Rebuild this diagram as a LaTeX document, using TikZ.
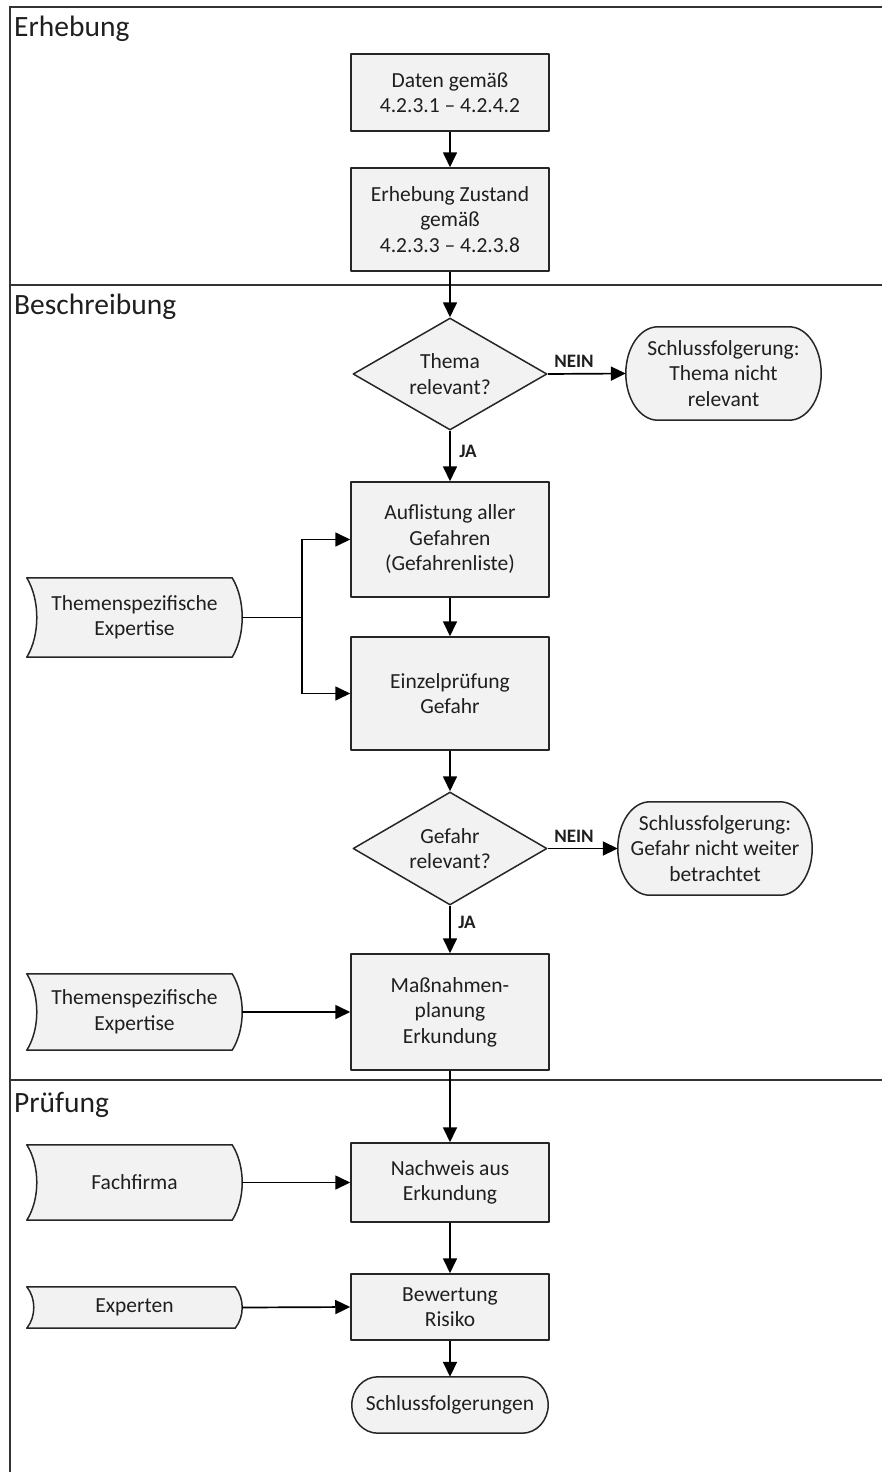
\documentclass[tikz,border=0pt]{standalone}
\usepackage{fontspec}
\setmainfont{Carlito}
\usetikzlibrary{arrows.meta,shapes.geometric,calc}
\pgfdeclarelayer{background}
\pgfsetlayers{background,main}

% terminator outline around a node: #1 node name, #2 horizontal end radius
\newcommand\termdraw[2]{%
  \begin{pgfonlayer}{background}
  \path[shapeline] ($(#1.north west)+(#2,0)$) -- ($(#1.north east)+(-#2,0)$)
    .. controls ($(#1.north east)+(-0.448*#2,0)$) and ($(#1.east)!0.552!(#1.north east)$) .. (#1.east)
    .. controls ($(#1.east)!0.552!(#1.south east)$) and ($(#1.south east)+(-0.448*#2,0)$) .. ($(#1.south east)+(-#2,0)$)
    -- ($(#1.south west)+(#2,0)$)
    .. controls ($(#1.south west)+(0.448*#2,0)$) and ($(#1.west)!0.552!(#1.south west)$) .. (#1.west)
    .. controls ($(#1.west)!0.552!(#1.north west)$) and ($(#1.north west)+(0.448*#2,0)$) .. ($(#1.north west)+(#2,0)$)
    -- cycle;
  \end{pgfonlayer}}

% stored-data outline around a node: #1 node name, #2 bulge
\newcommand\datadraw[2]{%
  \begin{pgfonlayer}{background}
  \path[shapeline] (#1.north west) -- ($(#1.north east)+(-#2,0)$)
    .. controls ($(#1.north east)!0.28!(#1.south east)+(0.333*#2,0)$) and ($(#1.north east)!0.72!(#1.south east)+(0.333*#2,0)$) .. ($(#1.south east)+(-#2,0)$)
    -- (#1.south west)
    .. controls ($(#1.south west)!0.28!(#1.north west)+(1.333*#2,0)$) and ($(#1.south west)!0.72!(#1.north west)+(1.333*#2,0)$) .. (#1.north west)
    -- cycle;
  \end{pgfonlayer}}

\begin{document}
\begin{tikzpicture}[x=1pt,y=-1pt,
  every node/.style={font=\fontsize{21.5}{25.5}\selectfont, text=black!88},
  shapeline/.style={draw=black!85, line width=1.5pt, fill=black!5, line join=round},
  proc/.style={rectangle, shapeline, align=center, inner sep=0pt, minimum width=198pt},
  dec/.style={diamond, shapeline, align=center, inner sep=0pt, aspect=1.73, minimum width=194pt, minimum height=112pt},
  term/.style={rectangle, align=center, inner sep=0pt, minimum width=195pt, minimum height=93pt},
  datanode/.style={rectangle, align=center, inner sep=0pt, minimum width=215pt},
  conn/.style={draw=black, line width=1.7pt, -{Triangle[length=15pt,width=14pt]}},
  lbl/.style={font=\fontsize{19}{22}\selectfont\bfseries, inner sep=0pt},
  lane/.style={font=\fontsize{29.5}{34}\selectfont, inner sep=0pt, anchor=base west},
  frame/.style={draw=black!80, line width=1.8pt}
]
\useasboundingbox (0,0) rectangle (881,1472);

% swimlane frame
\draw[frame] (885,7) -- (10,7) -- (10,1476);
\draw[frame] (10,285) -- (885,285);
\draw[frame] (10,1080) -- (885,1080);
\node[lane] (lane1) at (14,37) {Erhebung};
\node[lane] (lane2) at (14,314) {Beschreibung};
\node[lane] (lane3) at (14,1112) {Prüfung};

% process boxes
\node[proc, minimum height=77pt]  (b1) at (450,92.5)  {Daten gemäß\\4.2.3.1 – 4.2.4.2};
\node[proc, minimum height=103pt] (b2) at (450,219.5) {Erhebung Zustand\\gemäß\\4.2.3.3 – 4.2.3.8};
\node[dec] (q1) at (450,374) {Thema\\relevant?};
\node[term] (t1) at (723.5,373.5) {Schlussfolgerung:\\Thema nicht\\relevant};
\termdraw{t1}{32}
\node[proc, minimum height=115pt] (b3) at (450,539.5) {Auflistung aller\\Gefahren\\(Gefahrenliste)};
\node[proc, minimum height=113pt] (b4) at (450,693.5) {Einzelprüfung\\Gefahr};
\node[datanode, minimum height=79pt] (d1) at (134.5,617.5) {Themenspezifische\\Expertise};
\datadraw{d1}{10}
\node[dec, minimum height=113pt] (q2) at (450,848.5) {Gefahr\\relevant?};
\node[term, minimum width=194pt] (t2) at (715,848.5) {Schlussfolgerung:\\Gefahr nicht weiter\\betrachtet};
\termdraw{t2}{32}
\node[proc, minimum height=116pt] (b5) at (450,1012) {Maßnahmen-\\planung\\Erkundung};
\node[datanode, minimum height=76pt] (d2) at (134.5,1012) {Themenspezifische\\Expertise};
\datadraw{d2}{10}
\node[proc, minimum height=79pt] (b6) at (450,1182.5) {Nachweis aus\\Erkundung};
\node[datanode, minimum height=75pt] (d3) at (134.5,1182.5) {Fachfirma};
\datadraw{d3}{10}
\node[proc, minimum height=66pt] (b7) at (450,1307) {Bewertung\\Risiko};
\node[datanode, minimum height=41pt] (d4) at (134.5,1307.5) {Experten};
\datadraw{d4}{7}
\node[term, minimum width=196pt, minimum height=56pt] (t3) at (450,1405) {Schlussfolgerungen};
\termdraw{t3}{26}

% labels
\node[lbl] (n1) at (574,361) {NEIN};
\node[lbl] (j1) at (468,451) {JA};
\node[lbl] (n2) at (574,836) {NEIN};
\node[lbl] (j2) at (467,922) {JA};

% connectors
\draw[conn] (b1.south) -- (b2.north);
\draw[conn] (b2.south) -- (q1.north);
\draw[conn] (q1.east) -- (t1.west);
\draw[conn] (q1.south) -- (b3.north);
\coordinate (split) at ($(d1.east)+(60,0)$);
\draw[line width=1.7pt] (d1.east) -- (split);
\draw[conn] (split) |- (b3.west);
\draw[conn] (split) |- (b4.west);
\draw[conn] (b3.south) -- (b4.north);
\draw[conn] (b4.south) -- (q2.north);
\draw[conn] (q2.east) -- (t2.west);
\draw[conn] (q2.south) -- (b5.north);
\draw[conn] (d2.east) -- (b5.west);
\draw[conn] (b5.south) -- (b6.north);
\draw[conn] (d3.east) -- (b6.west);
\draw[conn] (b6.south) -- (b7.north);
\draw[conn] (d4.east) -- (b7.west);
\draw[conn] (b7.south) -- (t3.north);
\end{tikzpicture}
\end{document}
